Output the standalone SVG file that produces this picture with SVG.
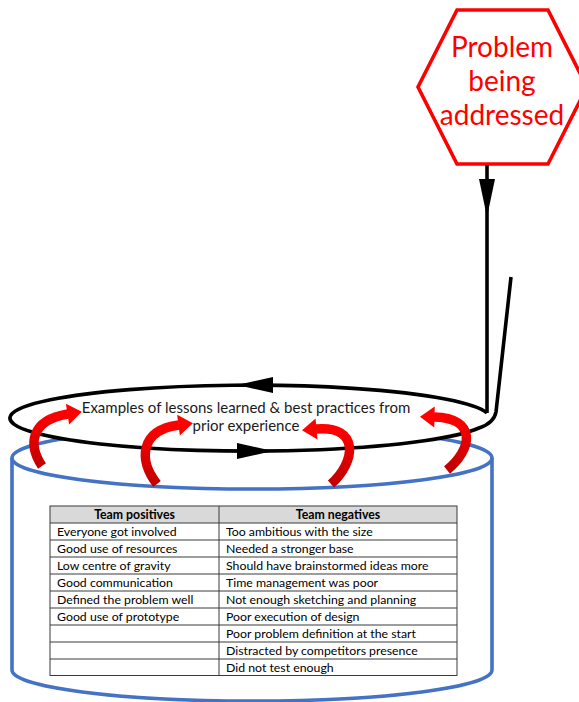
<svg xmlns="http://www.w3.org/2000/svg" width="579" height="702" viewBox="0 0 579 702">
<style>
  .sans { font-family: Lato, "Liberation Sans", sans-serif; }
  .blk { fill: none; stroke: #000; stroke-width: 3.6; stroke-linejoin: round; }
  .bhead { fill: #000; }
  .blue { fill: none; stroke: #4472C4; stroke-width: 3.6; }
  .rarc { fill: none; stroke: url(#redGrad); stroke-width: 9.5; stroke-linecap: butt; marker-end: url(#redHead); }
  .cell { font-size: 12.3px; fill: #000; }
  .hdr { font-size: 12.3px; font-weight: bold; fill: #000; text-anchor: middle; }
  .grid { stroke: #3a3a3a; stroke-width: 1; fill: none; }
</style>
<defs>
  <linearGradient id="redGrad" x1="0" y1="0" x2="0" y2="1">
    <stop offset="0" stop-color="#FF0000"/>
    <stop offset="1" stop-color="#C00000"/>
  </linearGradient>
  <marker id="redHead" markerUnits="userSpaceOnUse" orient="auto" refX="0" refY="0" markerWidth="30" markerHeight="30" overflow="visible">
    <path d="M-0.5,-10.5 L14,0 L-0.5,10.5 Z" fill="#FF0000"/>
  </marker>
</defs>
<rect width="579" height="702" fill="#fff"/>

<g id="cylinder">
  <path class="blue" d="M12,458 L12,670 A240,31 0 0,0 492,670 L492,458"/>
  <ellipse class="blue" cx="252" cy="458" rx="240" ry="31"/>
</g>

<g id="lessons-table">
  <rect x="50" y="506" width="407" height="17" fill="#D9D9D9"/>
  <rect class="grid" x="50" y="506" width="407" height="169.5"/>
  <path class="grid" d="M50,523 H457 M50,540 H457 M50,557 H457 M50,574 H457 M50,591 H457 M50,608 H457 M50,625 H457 M50,642 H457 M50,659 H457 M219,506 V675.5"/>
  <text class="sans hdr" x="134.5" y="519">Team positives</text>
  <text class="sans hdr" x="338" y="519">Team negatives</text>
  <g class="sans cell">
    <text x="57" y="536">Everyone got involved</text>
    <text x="57" y="553">Good use of resources</text>
    <text x="57" y="570">Low centre of gravity</text>
    <text x="57" y="587">Good communication</text>
    <text x="57" y="604">Defined the problem well</text>
    <text x="57" y="621">Good use of prototype</text>
    <text x="226" y="536">Too ambitious with the size</text>
    <text x="226" y="553">Needed a stronger base</text>
    <text x="226" y="570">Should have brainstormed ideas more</text>
    <text x="226" y="587">Time management was poor</text>
    <text x="226" y="604">Not enough sketching and planning</text>
    <text x="226" y="621">Poor execution of design</text>
    <text x="226" y="638">Poor problem definition at the start</text>
    <text x="226" y="655">Distracted by competitors presence</text>
    <text x="226" y="672">Did not test enough</text>
  </g>
</g>

<g id="lessons-loop">
  <ellipse cx="250" cy="418" rx="240" ry="33" fill="#fff"/>
  <path class="blk" d="M487,413 A240,33 0 1,0 479,428 Q494,423 496,412 L511,277"/>
  <polygon class="bhead" points="237,385 273,377 273,393"/>
  <polygon class="bhead" points="273,451 237,443 237,459"/>
  <text class="sans" x="246" y="413" font-size="15" fill="#1a1a1a" text-anchor="middle">Examples of lessons learned &amp; best practices from</text>
  <text class="sans" x="246" y="431" font-size="15" fill="#1a1a1a" text-anchor="middle">prior experience</text>
</g>

<g id="problem">
  <polygon points="457,10 548,10 587,87 548,164 457,164 418,87" fill="#fff" stroke="#FF0000" stroke-width="3.6" stroke-linejoin="miter"/>
  <g class="sans" font-size="28" fill="#FF0000" text-anchor="middle">
    <text x="502" y="57">Problem</text>
    <text x="502" y="91">being</text>
    <text x="502" y="125">addressed</text>
  </g>
</g>

<g id="connectors">
  <path class="blk" d="M487,165 L487,413"/>
  <polygon class="bhead" points="487,217 479,179 495,179"/>
  <path class="rarc" d="M42,466 C28,445 30,420 68,414"/>
  <path class="rarc" d="M157,484 C138,460 140,430 179,425"/>
  <path class="rarc" d="M331,484 C356,462 360,425 316,429"/>
  <path class="rarc" d="M447,470 C472,450 478,418 434,417"/>
</g>
</svg>
